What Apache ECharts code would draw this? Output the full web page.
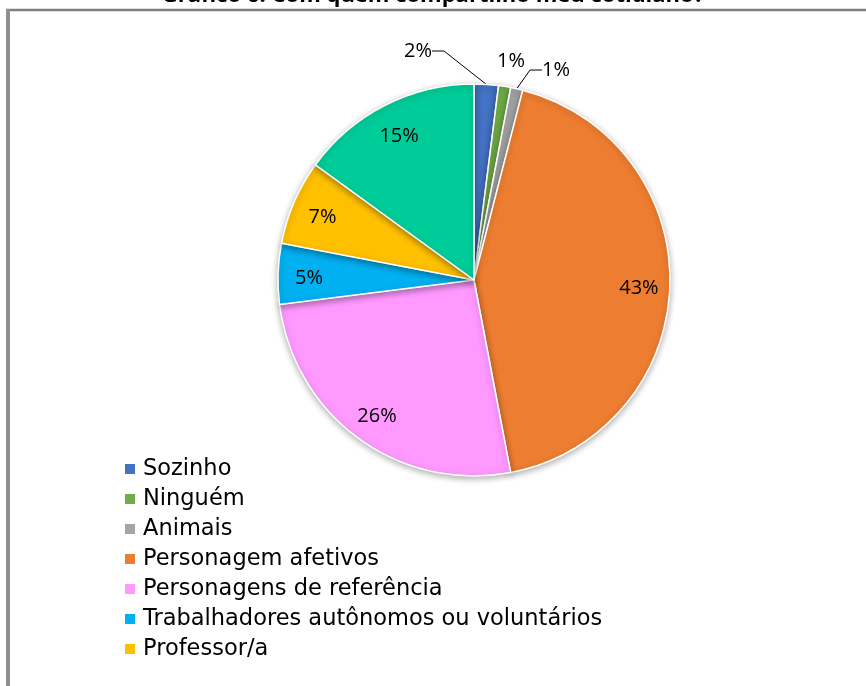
<!DOCTYPE html>
<html>
<head>
<meta charset="utf-8">
<script src="https://cdn.jsdelivr.net/npm/echarts@6/dist/echarts.min.js"></script>
<style>
html,body{margin:0;padding:0;background:#fff;}
#main{width:866px;height:686px;}
</style>
</head>
<body>
<div id="main"></div>
<script>
const titleText = 'Gráfico 6: Com quem compartilho meu cotidiano?';
const categories = ['Sozinho','Ninguém','Animais','Personagem afetivos','Personagens de referência','Trabalhadores autônomos ou voluntários','Professor/a','Outros'];
const values = [2, 1, 1, 43, 26, 5, 7, 15];
const colors = ['#4472C4','#70AD47','#A5A5A5','#ED7D31','#FF99FF','#00B0F0','#FFC000','#00CC99'];
// legend entries visible in the reference (the last one is cut off there)
const legendNames = categories.slice(0, 7);

const FONT = 'Open Sans';
const LEGEND_FONT = 'DejaVu Sans';
const chart = echarts.init(document.getElementById('main'), null, {renderer:'canvas'});

// outside label placement for the three thin slices (text anchors only)
const smallLabelPos = {0:[418,51], 1:[511,61], 2:[556,70]};

const mainData = categories.map((c,i)=>({
  name:c, value:values[i],
  itemStyle:{color:colors[i]},
  label:{show: values[i] < 3},
  labelLine:{show: values[i] < 3 && i !== 1}
}));
const labelData = categories.map((c,i)=>({
  name:c, value:values[i],
  label:{show: values[i] >= 3}
}));

chart.setOption({
  backgroundColor:'#ffffff',
  animation:false,
  title:{
    text:titleText, left:'center', top:-20,
    textStyle:{fontFamily:FONT, fontWeight:'bold', fontSize:22, color:'#000'}
  },
  color: colors,
  legend:{
    orient:'vertical', left:118, top:449, height:600,
    data: legendNames,
    icon:'rect', itemWidth:12, itemHeight:12, itemGap:0,
    textStyle:{fontFamily:LEGEND_FONT, fontSize:22.5, color:'#000', lineHeight:30, padding:[0,0,0,2]},
    selectedMode:false
  },
  graphic:[
    {type:'line', shape:{x1:6, y1:10, x2:866, y2:10}, style:{stroke:'#808080', lineWidth:2.5}},
    {type:'line', shape:{x1:8, y1:9, x2:8, y2:686}, style:{stroke:'#909090', lineWidth:4}}
  ],
  series:[
    {
      type:'pie', center:[474,280], radius:196,
      startAngle:90, clockwise:true,
      data: mainData,
      itemStyle:{borderColor:'#fff', borderWidth:1.5, shadowBlur:6, shadowColor:'rgba(0,0,0,0.3)', shadowOffsetY:2},
      label:{position:'outside', formatter:'{d}%', fontFamily:FONT, fontSize:20, color:'#000'},
      labelLine:{length:12, length2:12, lineStyle:{color:'#000', width:1}},
      labelLayout: function(p){
        const pos = smallLabelPos[p.dataIndex];
        if (!pos) return {};
        return {x:pos[0], y:pos[1], align:'center', verticalAlign:'middle'};
      },
      emphasis:{disabled:true}, silent:true
    },
    {
      type:'pie', center:[474,283], radius:[128,196],
      startAngle:90, clockwise:true,
      data: labelData,
      itemStyle:{color:'rgba(0,0,0,0)', borderWidth:0},
      label:{position:'inside', formatter:'{d}%', fontFamily:FONT, fontSize:20, color:'#000'},
      labelLine:{show:false},
      emphasis:{disabled:true}, silent:true, z:3
    }
  ]
});
</script>
</body>
</html>
